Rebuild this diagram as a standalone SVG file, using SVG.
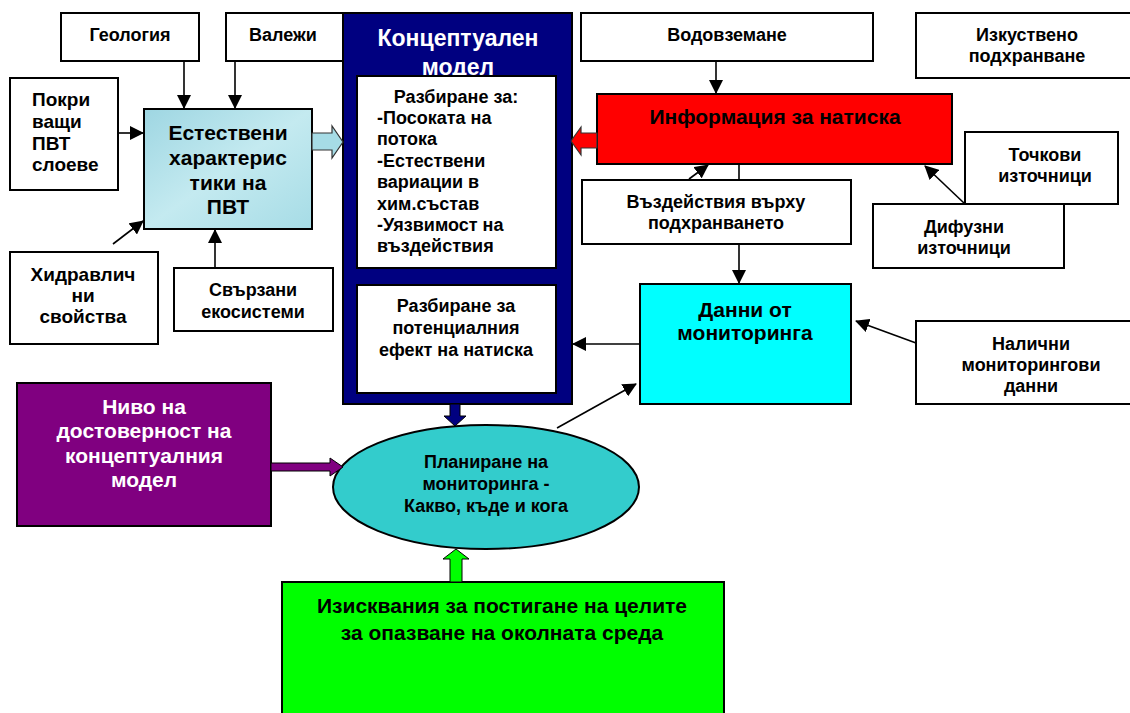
<svg xmlns="http://www.w3.org/2000/svg" width="1130" height="713" viewBox="0 0 1130 713">
<defs>
<marker id="ahb" markerWidth="14" markerHeight="14" refX="13" refY="7" orient="auto" markerUnits="userSpaceOnUse" viewBox="0 0 14 14"><path d="M0,0 L14,7 L0,14 z" fill="#000"/></marker>
<linearGradient id="water" x1="0" y1="0" x2="1" y2="1">
<stop offset="0" stop-color="#9ED6E2"/><stop offset="0.5" stop-color="#C4EAF0"/><stop offset="1" stop-color="#A6DCE6"/>
</linearGradient>
<style>
.box{fill:#fff;stroke:#000;stroke-width:2}
.t{font-family:"Liberation Sans",Arial,sans-serif;font-weight:bold;fill:#000}
.c{text-anchor:middle}
.s15{font-size:18px}
.s18{font-size:19px}
.s21{font-size:21px}
.w{fill:#fff}
.ln{stroke:#000;stroke-width:1.6;fill:none}
</style>
</defs>

<g id="geologia"><rect class="box" x="61" y="13" width="138" height="48"/><text class="t c s15" x="130" y="41">Геология</text></g>
<g id="valezhi"><rect class="box" x="226" y="13" width="117" height="48"/><text class="t c s15" x="283" y="41">Валежи</text></g>
<g id="pokrivashti"><rect class="box" x="10" y="78" width="108" height="112"/>
<text class="t s18" x="32" y="106">Покри</text><text class="t s18" x="32" y="128">ващи</text><text class="t s18" x="32" y="150">ПВТ</text><text class="t s18" x="32" y="171">слоеве</text></g>
<g id="estestveni"><rect x="144" y="109" width="168" height="120" fill="url(#water)" stroke="#000" stroke-width="2"/>
<text class="t c s21" x="228" y="140">Естествени</text><text class="t c s21" x="228" y="165">характерис</text><text class="t c s21" x="228" y="190">тики на</text><text class="t c s21" x="228" y="214">ПВТ</text></g>
<g id="hidravlichni"><rect class="box" x="10" y="252" width="148" height="92"/>
<text class="t c s18" x="83" y="281">Хидравлич</text><text class="t c s18" x="83" y="302">ни</text><text class="t c s18" x="83" y="323">свойства</text></g>
<g id="svarzani"><rect class="box" x="174" y="268" width="159" height="63"/>
<text class="t c s15" x="253" y="296">Свързани</text><text class="t c s15" x="253" y="318">екосистеми</text></g>

<g id="model"><rect x="343" y="13" width="229" height="391" fill="#000080" stroke="#000" stroke-width="2"/>
<text class="t c w" font-size="23" x="458" y="46">Концептуален</text><text class="t c w" font-size="23" x="458" y="75">модел</text>
<rect class="box" x="357" y="76" width="199" height="192"/>
<text class="t c s15" x="456" y="103">Разбиране за:</text>
<text class="t s15" x="377" y="124">-Посоката на</text><text class="t s15" x="377" y="145">потока</text><text class="t s15" x="377" y="167">-Естествени</text><text class="t s15" x="377" y="188">вариации в</text><text class="t s15" x="377" y="210">хим.състав</text><text class="t s15" x="377" y="231">-Уязвимост на</text><text class="t s15" x="377" y="252">въздействия</text>
<rect class="box" x="357" y="285" width="199" height="108"/>
<text class="t c s15" x="456" y="312">Разбиране за</text><text class="t c s15" x="456" y="334">потенциалния</text><text class="t c s15" x="456" y="356">ефект на натиска</text></g>

<g id="vodovzemane"><rect class="box" x="581" y="13" width="292" height="48"/><text class="t c s15" x="727" y="41">Водовземане</text></g>
<g id="izkustveno"><rect class="box" x="916" y="13" width="216" height="65"/><text class="t c s15" x="1027" y="41">Изкуствено</text><text class="t c s15" x="1027" y="62">подхранване</text></g>
<g id="informacia"><rect x="597" y="94" width="355" height="70" fill="#FF0000" stroke="#000" stroke-width="2"/><text class="t c s21" x="775" y="124">Информация за натиска</text></g>
<g id="vazdeystvia"><rect class="box" x="582" y="180" width="269" height="64"/><text class="t c s15" x="716" y="208">Въздействия върху</text><text class="t c s15" x="716" y="229">подхранването</text></g>
<g id="tochkovi"><rect class="box" x="965" y="132" width="153" height="72"/><text class="t c s15" x="1045" y="161">Точкови</text><text class="t c s15" x="1045" y="182">източници</text></g>
<g id="difuzni"><rect class="box" x="873" y="204" width="191" height="64"/><text class="t c s15" x="964" y="233">Дифузни</text><text class="t c s15" x="964" y="254">източници</text></g>
<g id="danni"><rect x="640" y="284" width="211" height="120" fill="#00FFFF" stroke="#000" stroke-width="2"/><text class="t c s21" x="745" y="317">Данни от</text><text class="t c s21" x="745" y="340">мониторинга</text></g>
<g id="nalichni"><rect class="box" x="916" y="321" width="216" height="83"/><text class="t c s15" x="1031" y="350">Налични</text><text class="t c s15" x="1031" y="371">мониторингови</text><text class="t c s15" x="1031" y="392">данни</text></g>

<g id="nivo"><rect x="17" y="383" width="254" height="143" fill="#800080" stroke="#000" stroke-width="2"/>
<text class="t c w s21" x="144" y="414">Ниво на</text><text class="t c w s21" x="144" y="438">достоверност на</text><text class="t c w s21" x="144" y="463">концептуалния</text><text class="t c w s21" x="144" y="487">модел</text></g>
<g id="planirane"><ellipse cx="486" cy="487" rx="153" ry="62" fill="#33CCCC" stroke="#000" stroke-width="2"/>
<text class="t c s15" x="486" y="468">Планиране на</text><text class="t c s15" x="486" y="490">мониторинга -</text><text class="t c s15" x="486" y="512">Какво, къде и кога</text></g>
<g id="iziskvania"><rect x="282" y="582" width="442" height="134" fill="#00FF00" stroke="#000" stroke-width="2"/>
<text class="t c s21" x="502" y="613">Изисквания за постигане на целите</text><text class="t c s21" x="502" y="640">за опазване на околната среда</text></g>

<g id="connectors">
<line class="ln" x1="184" y1="61" x2="184" y2="108" marker-end="url(#ahb)"/>
<line class="ln" x1="235" y1="61" x2="235" y2="108" marker-end="url(#ahb)"/>
<line class="ln" x1="118" y1="133" x2="143" y2="133" marker-end="url(#ahb)"/>
<line class="ln" x1="113" y1="244" x2="143" y2="221" marker-end="url(#ahb)"/>
<line class="ln" x1="215" y1="268" x2="215" y2="230" marker-end="url(#ahb)"/>
<polygon points="312,133 332,133 332,126 343,142 332,158 332,150 312,150" fill="#A6DCE6" stroke="#333" stroke-width="1.2"/>
<polygon points="597,133 581,133 581,127 571,141 581,155 581,148 597,148" fill="#FF0000" stroke="#333" stroke-width="1.2"/>
<line class="ln" x1="716" y1="61" x2="716" y2="93" marker-end="url(#ahb)"/>
<line class="ln" x1="689" y1="179" x2="708" y2="165" marker-end="url(#ahb)"/>
<line class="ln" x1="739" y1="164" x2="739" y2="180"/>
<line class="ln" x1="739" y1="244" x2="739" y2="283" marker-end="url(#ahb)"/>
<line class="ln" x1="965" y1="204" x2="925" y2="166" marker-end="url(#ahb)"/>
<line class="ln" x1="640" y1="344" x2="573" y2="344" marker-end="url(#ahb)"/>
<line class="ln" x1="916" y1="343" x2="856" y2="321" marker-end="url(#ahb)"/>
<line class="ln" x1="557" y1="428" x2="636" y2="384" marker-end="url(#ahb)"/>
<polygon points="450,404 460,404 460,416 466,416 455,426 444,416 450,416" fill="#000080" stroke="#000" stroke-width="1"/>
<polygon points="271,463 330,463 330,458 343,467 330,476 330,471 271,471" fill="#800080" stroke="#000" stroke-width="1"/>
<polygon points="450,582 462,582 462,559 469,559 456,549 443,559 450,559" fill="#00FF00" stroke="#000" stroke-width="1"/>
</g>
</svg>
